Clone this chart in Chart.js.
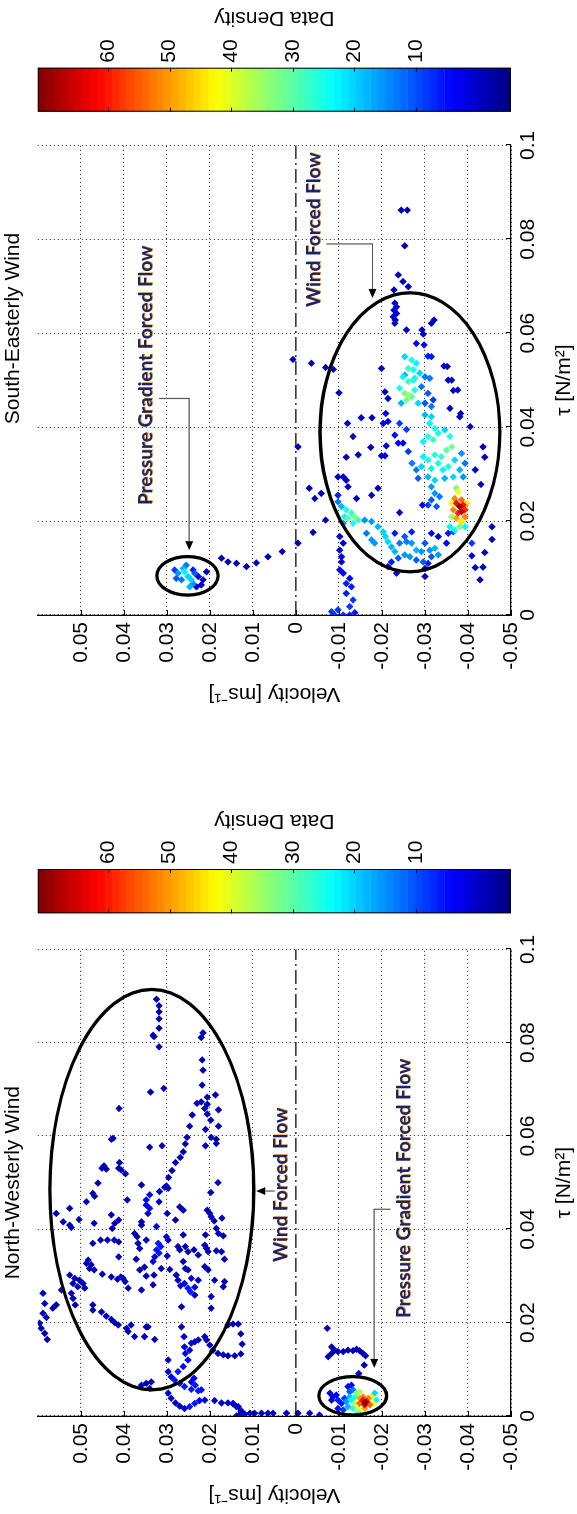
<!DOCTYPE html>
<html><head><meta charset="utf-8">
<script src="https://cdn.jsdelivr.net/npm/chart.js@4.4.1/dist/chart.umd.min.js"></script>
<style>
html,body{margin:0;padding:0;background:#fff;width:577px;height:1514px;overflow:hidden;}
#fig{position:absolute;left:0;top:0;width:1514px;height:577px;transform-origin:0 0;transform:translate(0,1514px) rotate(-90deg);background:#fff;}
.box{position:absolute;top:0;height:577px;}
</style></head>
<body>
<div id="fig">
  <div class="box" style="left:0;width:590px"><canvas id="nw" width="590" height="577"></canvas></div>
  <div class="box" style="left:590px;width:130px"><canvas id="nwcb" width="130" height="577"></canvas></div>
  <div class="box" style="left:801px;width:590px"><canvas id="se" width="590" height="577"></canvas></div>
  <div class="box" style="left:1391px;width:123px"><canvas id="secb" width="123" height="577"></canvas></div>
</div>
<script>
// ---------- axes / ticks ----------
const tauRange = [0, 0.1];
const velRange = [-0.05, 0.06];
const densRange = [1, 65];
const tauTicks = [0, 0.02, 0.04, 0.06, 0.08, 0.1];
const velTicks = [-0.05, -0.04, -0.03, -0.02, -0.01, 0, 0.01, 0.02, 0.03, 0.04, 0.05];
const cbTicks = [10, 20, 30, 40, 50, 60];
const titles = ['North-Westerly Wind', 'South-Easterly Wind'];

// ---------- North-Westerly data: [tau, velocity, density] ----------
const nwUpper = [
[0.0893,0.0324,4],[0.0879,0.0318,4],[0.0866,0.0318,4],[0.0851,0.0318,4],[0.0831,0.0318,4],[0.0816,0.0332,4],[0.0813,0.0330,4],[0.0791,0.0318,4],
[0.0821,0.0216,4],[0.0811,0.0220,4],[0.0763,0.0218,4],[0.0741,0.0216,4],[0.0709,0.0218,4],[0.0688,0.0187,4],[0.0683,0.0206,4],[0.0673,0.0220,4],
[0.0670,0.0230,4],[0.0668,0.0206,4],[0.0659,0.0212,4],[0.0656,0.0180,4],[0.0645,0.0241,4],[0.0647,0.0206,4],[0.0634,0.0198,4],[0.0621,0.0247,4],
[0.0621,0.0180,4],[0.0614,0.0210,4],[0.0597,0.0253,4],[0.0597,0.0197,4],[0.0593,0.0185,4],[0.0584,0.0185,4],[0.0583,0.0257,4],[0.0566,0.0262,4],
[0.0579,0.0210,4],[0.0554,0.0269,4],[0.0543,0.0280,4],[0.0526,0.0288,4],[0.0511,0.0296,4],[0.0493,0.0301,5],[0.0490,0.0305,5],
[0.0702,0.0307,4],[0.0694,0.0338,4],[0.0659,0.0411,4],[0.0595,0.0425,4],[0.0593,0.0429,4],[0.0576,0.0340,4],[0.0579,0.0311,4],[0.0543,0.0410,4],
[0.0531,0.0412,4],[0.0527,0.0406,4],[0.0536,0.0446,4],[0.0529,0.0441,4],[0.0531,0.0451,4],[0.0519,0.0396,4],[0.0499,0.0460,4],[0.0495,0.0359,4],[0.0500,0.0181,4]
];
const nwMid = [
[0.0488,0.0297,5],[0.0477,0.0472,4],[0.0471,0.0468,4],[0.0459,0.0487,4],[0.0445,0.0526,4],[0.0434,0.0557,4],[0.0416,0.0541,4],[0.0409,0.0526,4],
[0.0404,0.0522,4],[0.0421,0.0504,4],[0.0413,0.0469,4],[0.0431,0.0429,4],[0.0420,0.0412,4],[0.0413,0.0421,4],[0.0402,0.0427,4],[0.0463,0.0392,4],
[0.0474,0.0340,8],[0.0463,0.0348,8],[0.0452,0.0348,8],[0.0445,0.0340,8],[0.0434,0.0344,6],[0.0481,0.0317,5],[0.0459,0.0318,5],[0.0416,0.0359,4],
[0.0409,0.0359,4],[0.0434,0.0299,4],[0.0448,0.0270,4],[0.0441,0.0262,4],[0.0420,0.0280,4],[0.0384,0.0301,5],[0.0377,0.0297,5],[0.0406,0.0324,5],
[0.0391,0.0375,4],[0.0384,0.0369,4],[0.0377,0.0348,4],[0.0370,0.0367,4],[0.0359,0.0363,4],
[0.0370,0.0320,10],[0.0363,0.0314,10],[0.0356,0.0324,10],[0.0349,0.0318,10],[0.0341,0.0328,8],[0.0331,0.0332,6],[0.0343,0.0299,5],[0.0363,0.0274,4],
[0.0356,0.0270,4],[0.0388,0.0262,4],[0.0363,0.0257,4],[0.0352,0.0251,4],[0.0356,0.0237,4],[0.0345,0.0227,4],[0.0366,0.0212,4],[0.0359,0.0208,4],
[0.0352,0.0204,4],[0.0388,0.0210,4],[0.0441,0.0206,4],[0.0434,0.0200,4],[0.0427,0.0197,4],[0.0418,0.0190,4],[0.0424,0.0172,4],[0.0402,0.0185,4],
[0.0391,0.0180,4],[0.0386,0.0169,4],[0.0479,0.0198,4],[0.0354,0.0185,4],[0.0352,0.0173,4],[0.0336,0.0166,4],
[0.0341,0.0412,4],[0.0377,0.0454,4],[0.0377,0.0438,4],[0.0377,0.0422,4],[0.0373,0.0412,4],[0.0370,0.0472,4],[0.0334,0.0483,4],[0.0327,0.0487,4],
[0.0324,0.0476,4],[0.0313,0.0469,4],[0.0316,0.0480,4],[0.0336,0.0371,4],[0.0313,0.0363,4],[0.0319,0.0352,4],[0.0300,0.0348,4],[0.0302,0.0330,4],
[0.0316,0.0313,4],[0.0314,0.0293,4]
];
const nwLow = [
[0.0302,0.0278,5],[0.0291,0.0274,5],[0.0279,0.0268,5],[0.0331,0.0262,4],[0.0316,0.0257,4],[0.0313,0.0251,4],[0.0284,0.0259,8],[0.0274,0.0251,10],
[0.0266,0.0245,10],[0.0276,0.0235,8],[0.0295,0.0243,6],[0.0291,0.0227,5],[0.0259,0.0235,4],[0.0320,0.0212,4],[0.0313,0.0204,4],[0.0291,0.0189,4],
[0.0288,0.0166,4],[0.0277,0.0169,4],[0.0256,0.0197,4],[0.0231,0.0197,4],[0.0234,0.0266,4],[0.0281,0.0332,4],[0.0270,0.0359,4],[0.0274,0.0390,4],
[0.0288,0.0397,4],[0.0295,0.0402,4],[0.0298,0.0407,4],[0.0298,0.0429,4],[0.0293,0.0415,4],[0.0304,0.0450,4],
[0.0302,0.0526,4],[0.0295,0.0514,4],[0.0291,0.0503,4],[0.0284,0.0495,4],[0.0274,0.0491,4],[0.0277,0.0507,4],[0.0284,0.0518,4],[0.0263,0.0522,4],
[0.0252,0.0518,4],[0.0238,0.0513,4],[0.0270,0.0545,4],[0.0263,0.0588,4],[0.0241,0.0584,4],[0.0238,0.0557,4],[0.0231,0.0565,4],[0.0220,0.0588,4],
[0.0211,0.0580,4],[0.0199,0.0596,4],[0.0188,0.0592,4],[0.0177,0.0584,4],[0.0164,0.0578,4],
[0.0238,0.0472,4],[0.0227,0.0472,4],[0.0223,0.0452,4],[0.0214,0.0441,4],[0.0207,0.0429,4],[0.0200,0.0421,4],[0.0195,0.0413,4],[0.0188,0.0394,4],
[0.0181,0.0390,4],[0.0195,0.0383,4],[0.0170,0.0375,4],[0.0170,0.0352,4],[0.0191,0.0348,4],[0.0191,0.0344,4],[0.0164,0.0328,4],[0.0120,0.0297,4],
[0.0191,0.0266,4],[0.0170,0.0260,5],[0.0148,0.0259,6],[0.0134,0.0257,8],[0.0120,0.0251,8],[0.0141,0.0247,6],[0.0156,0.0243,6],[0.0159,0.0235,5],
[0.0163,0.0227,5],[0.0106,0.0262,8],[0.0095,0.0274,10],
[0.0170,0.0212,4],[0.0163,0.0208,4],[0.0152,0.0200,4],[0.0141,0.0193,4],[0.0134,0.0181,4],[0.0131,0.0169,4],[0.0129,0.0158,4],[0.0129,0.0142,4],
[0.0133,0.0128,4],[0.0195,0.0158,4],[0.0197,0.0146,4],[0.0197,0.0134,4],[0.0176,0.0128,4],[0.0154,0.0125,4]
];
const nwBase = [
[0.0081,0.0237,8],[0.0066,0.0234,10],[0.0073,0.0243,8],[0.0095,0.0297,6],[0.0084,0.0290,8],[0.0077,0.0282,10],[0.0070,0.0270,10],[0.0063,0.0259,10],
[0.0057,0.0243,10],[0.0054,0.0227,10],[0.0056,0.0220,8],[0.0066,0.0359,4],[0.0070,0.0348,4],[0.0073,0.0336,4],[0.0059,0.0340,4],
[0.0049,0.0297,5],[0.0038,0.0290,5],[0.0028,0.0280,5],[0.0021,0.0270,5],[0.0016,0.0259,6],[0.0020,0.0247,10],[0.0027,0.0235,10],[0.0033,0.0224,8],
[0.0034,0.0212,6],[0.0033,0.0189,5],[0.0028,0.0173,5],[0.0028,0.0158,5],[0.0026,0.0146,5],[0.0020,0.0134,5],[0.0011,0.0127,5],[0.0004,0.0119,5],
[0.0006,0.0107,5],[0.0006,0.0096,5],[0.0006,0.0080,5],[0.0006,0.0065,5],[0.0000,0.0138,5],[0.0002,0.0131,5],
[0.0006,0.0053,5],[0.0006,0.0022,5],[0.0006,-0.0005,5],[0.0006,-0.0032,5],[0.0002,-0.0055,6],[0.0027,0.0146,5],[0.0020,0.0138,5],[0.0009,0.0127,5],
[0.0188,-0.0073,4],[0.0127,-0.0075,4],[0.0134,-0.0083,4],[0.0141,-0.0090,4],[0.0138,-0.0098,4],[0.0138,-0.0110,4],[0.0141,-0.0121,4],[0.0140,-0.0133,4],
[0.0143,-0.0141,4],[0.0140,-0.0148,4],[0.0134,-0.0156,4],[0.0129,-0.0162,4],[0.0148,-0.0083,4],[0.0109,-0.0159,4],[0.0091,-0.0146,5]
];
const nwCore = [
[0.0049,-0.0079,6],[0.0041,-0.0086,8],[0.0045,-0.0094,8],[0.0034,-0.0083,7],[0.0034,-0.0098,10],[0.0027,-0.0106,10],[0.0038,-0.0113,12],[0.0063,-0.0121,8],
[0.0066,-0.0129,9],[0.0052,-0.0125,14],[0.0056,-0.0133,16],[0.0016,-0.0098,9],[0.0013,-0.0110,12],[0.0031,-0.0117,18],[0.0041,-0.0125,20],[0.0034,-0.0129,24],
[0.0041,-0.0137,26],[0.0020,-0.0121,20],[0.0016,-0.0133,26],[0.0009,-0.0145,28],[0.0049,-0.0183,22],[0.0034,-0.0187,24],[0.0049,-0.0141,32],[0.0052,-0.0148,36],
[0.0027,-0.0137,36],[0.0041,-0.0176,38],[0.0027,-0.0180,40],[0.0016,-0.0145,38],[0.0038,-0.0148,46],[0.0041,-0.0156,48],[0.0038,-0.0168,48],[0.0027,-0.0148,50],
[0.0024,-0.0172,50],[0.0016,-0.0160,46],[0.0034,-0.0156,56],[0.0031,-0.0164,58],[0.0024,-0.0160,58],[0.0029,-0.0160,64]
];

// ---------- South-Easterly data: [tau, velocity, density] ----------
const seUpper = [
[0.0862,-0.0245,4],[0.0862,-0.0259,4],[0.0786,-0.0253,4],[0.0724,-0.0238,4],[0.0710,-0.0249,4],[0.0699,-0.0261,4],[0.0692,-0.0228,4],[0.0664,-0.0230,5],
[0.0656,-0.0234,6],[0.0649,-0.0228,6],[0.0642,-0.0234,6],[0.0635,-0.0226,6],[0.0628,-0.0231,6],[0.0621,-0.0230,5],[0.0628,-0.0321,5],[0.0621,-0.0315,5],
[0.0607,-0.0257,5],[0.0607,-0.0293,5],[0.0598,-0.0296,5],[0.0578,-0.0280,8],[0.0575,-0.0298,8],[0.0551,-0.0307,10],[0.0550,-0.0315,10],[0.0530,-0.0344,5],
[0.0525,-0.0199,5],[0.0544,0.0007,4],[0.0536,-0.0036,4],[0.0527,-0.0069,4],[0.0523,-0.0087,4],
[0.0550,-0.0253,22],[0.0543,-0.0269,26],[0.0536,-0.0280,24],[0.0525,-0.0261,28],[0.0522,-0.0273,26],[0.0515,-0.0288,22],[0.0511,-0.0253,20],[0.0504,-0.0276,24],
[0.0507,-0.0300,16],[0.0504,-0.0311,16],[0.0529,-0.0352,5],[0.0500,-0.0362,5],[0.0479,-0.0376,5],[0.0429,-0.0383,5],[0.0401,-0.0405,5]
];
const seMid = [
[0.0507,-0.0249,24],[0.0497,-0.0261,28],[0.0500,-0.0273,26],[0.0483,-0.0241,26],[0.0472,-0.0253,32],[0.0465,-0.0269,30],[0.0458,-0.0257,32],[0.0479,-0.0276,26],
[0.0451,-0.0284,22],[0.0451,-0.0245,20],[0.0468,-0.0262,34],
[0.0500,-0.0354,4],[0.0478,-0.0366,4],[0.0475,-0.0207,5],[0.0461,-0.0214,5],[0.0486,-0.0292,16],[0.0472,-0.0307,14],[0.0458,-0.0319,12],[0.0451,-0.0300,14],
[0.0444,-0.0315,16],[0.0440,-0.0358,5],[0.0422,-0.0381,4],[0.0473,-0.0100,4],[0.0429,-0.0209,8],[0.0408,-0.0203,8],[0.0412,-0.0214,8],[0.0420,-0.0152,5],
[0.0420,-0.0177,5],[0.0408,-0.0120,4],[0.0380,-0.0133,4],[0.0383,-0.0230,8],[0.0408,-0.0241,12],[0.0395,-0.0257,12],[0.0366,-0.0238,8],[0.0366,-0.0249,8],
[0.0360,-0.0210,6],[0.0357,-0.0174,4],[0.0358,-0.0005,4],[0.0341,-0.0145,4],[0.0336,-0.0117,4],[0.0339,-0.0199,6],[0.0339,-0.0207,6],[0.0348,-0.0261,12],
[0.0323,-0.0270,16],[0.0309,-0.0280,16],[0.0291,-0.0284,14]
];
const seCyan = [
[0.0426,-0.0300,20],[0.0422,-0.0315,22],[0.0408,-0.0311,24],[0.0397,-0.0323,26],[0.0380,-0.0307,26],[0.0369,-0.0296,24],[0.0373,-0.0319,28],[0.0387,-0.0331,26],
[0.0394,-0.0346,22],[0.0380,-0.0358,26],[0.0358,-0.0362,32],[0.0351,-0.0350,30],[0.0337,-0.0338,28],[0.0341,-0.0323,26],[0.0330,-0.0307,26],[0.0337,-0.0296,24],
[0.0316,-0.0292,22],[0.0312,-0.0315,24],[0.0323,-0.0331,26],[0.0309,-0.0342,24],[0.0316,-0.0354,26],[0.0330,-0.0369,22],[0.0344,-0.0385,18],[0.0323,-0.0393,16],
[0.0309,-0.0381,20],[0.0294,-0.0389,18],[0.0294,-0.0366,22],[0.0291,-0.0346,20],[0.0287,-0.0323,22],[0.0294,-0.0307,20],[0.0273,-0.0315,18],[0.0259,-0.0323,18],
[0.0252,-0.0334,16],[0.0245,-0.0315,14],[0.0234,-0.0307,12],[0.0231,-0.0327,14],[0.0234,-0.0294,8],[0.0218,-0.0241,5],
[0.0294,-0.0098,5],[0.0294,-0.0110,5],[0.0287,-0.0117,5],[0.0273,-0.0121,5],[0.0270,-0.0031,4],[0.0248,-0.0044,4],[0.0259,-0.0059,4],[0.0248,-0.0141,4],
[0.0255,-0.0176,4],[0.0270,-0.0191,4],
[0.0241,-0.0098,16],[0.0231,-0.0106,20],[0.0224,-0.0117,26],[0.0217,-0.0129,28],[0.0206,-0.0121,30],[0.0209,-0.0137,32],[0.0202,-0.0145,28],[0.0195,-0.0133,26],
[0.0209,-0.0113,24],[0.0195,-0.0110,18],[0.0255,-0.0098,10],
[0.0202,-0.0069,4],[0.0176,-0.0040,4],[0.0153,-0.0005,4],[0.0135,0.0032,4],[0.0124,0.0065,4],[0.0111,0.0092,4],[0.0103,0.0115,4],[0.0110,0.0138,4],
[0.0113,0.0158,4],[0.0121,0.0173,4]
];
const seLow = [
[0.0202,-0.0160,18],[0.0199,-0.0176,18],[0.0188,-0.0191,20],[0.0177,-0.0203,22],[0.0167,-0.0208,22],[0.0156,-0.0214,22],[0.0145,-0.0222,20],[0.0135,-0.0230,20],
[0.0174,-0.0164,16],[0.0160,-0.0176,18],[0.0153,-0.0183,18],[0.0174,-0.0230,10],[0.0177,-0.0269,10],[0.0167,-0.0253,14],
[0.0153,-0.0241,16],[0.0156,-0.0257,16],[0.0153,-0.0269,18],[0.0138,-0.0280,20],[0.0135,-0.0292,18],[0.0153,-0.0300,14],[0.0138,-0.0311,18],[0.0142,-0.0323,20],
[0.0128,-0.0331,18],[0.0124,-0.0315,14],[0.0110,-0.0307,10],[0.0113,-0.0296,14],[0.0117,-0.0280,14],[0.0124,-0.0265,18],[0.0128,-0.0253,18],[0.0121,-0.0238,14],
[0.0113,-0.0222,10],[0.0103,-0.0214,8],[0.0089,-0.0234,6],
[0.0174,-0.0315,6],[0.0167,-0.0331,6],[0.0174,-0.0354,10],[0.0153,-0.0350,8],[0.0177,-0.0366,14],
[0.0167,-0.0102,6],[0.0153,-0.0110,6],[0.0138,-0.0102,6],[0.0124,-0.0106,6],[0.0113,-0.0106,6],[0.0096,-0.0102,8],[0.0089,-0.0110,8],[0.0078,-0.0125,8],
[0.0067,-0.0117,10],[0.0060,-0.0129,10],[0.0046,-0.0117,10],[0.0032,-0.0133,12],[0.0018,-0.0125,12],[0.0011,-0.0098,12],[0.0007,-0.0083,12],[0.0000,-0.0090,12],
[0.0000,-0.0110,12],[0.0000,-0.0125,10],[0.0005,-0.0137,10],
[0.0099,-0.0300,4],[0.0082,-0.0300,4],
[0.0358,-0.0435,4],[0.0336,-0.0439,4],[0.0309,-0.0417,5],[0.0278,-0.0430,5],[0.0153,-0.0409,12],[0.0188,-0.0456,4],[0.0161,-0.0456,4],[0.0133,-0.0439,4],
[0.0102,-0.0435,4],[0.0101,-0.0417,5],[0.0075,-0.0428,4],[0.0126,-0.0409,6]
];
const seCore = [
[0.0231,-0.0381,63],[0.0220,-0.0385,60],[0.0238,-0.0373,56],[0.0234,-0.0389,56],[0.0217,-0.0377,54],[0.0224,-0.0393,54],[0.0248,-0.0369,48],[0.0245,-0.0385,50],
[0.0224,-0.0366,48],[0.0209,-0.0393,48],[0.0206,-0.0373,46],[0.0263,-0.0377,40],[0.0238,-0.0362,40],[0.0238,-0.0397,42],[0.0199,-0.0385,42],[0.0270,-0.0373,32],
[0.0209,-0.0362,34],[0.0188,-0.0381,32],[0.0188,-0.0358,24],[0.0181,-0.0369,26],[0.0188,-0.0393,24]
];
const seSmall = [
[0.0089,0.0274,18],[0.0099,0.0262,20],[0.0082,0.0251,22],[0.0067,0.0239,18],[0.0060,0.0247,20],[0.0075,0.0266,16],[0.0078,0.0278,14],[0.0106,0.0255,16],
[0.0089,0.0235,14],[0.0092,0.0259,24],[0.0075,0.0243,22],[0.0096,0.0282,12],[0.0082,0.0227,6],[0.0075,0.0216,5],[0.0064,0.0220,5],[0.0092,0.0208,4],
[0.0060,0.0231,6],[0.0096,0.0239,10]
];

// ---------- annotations (data units) ----------
const titleTau = [0.0500, 0.0610];
const nwEllipses = [{tau:0.0485, vel:0.0335, dTau:0.0429, dVel:0.0237}, {tau:0.00433, vel:-0.0132, dTau:0.00411, dVel:0.00787}];
const seEllipses = [{tau:0.0389, vel:-0.0265, dTau:0.0297, dVel:0.0209}, {tau:0.00834, vel:0.0252, dTau:0.0041, dVel:0.0071}];
const nwLabels = [{text:'Wind Forced Flow', tau:0.0330, vel:0.0021}, {text:'Pressure Gradient Forced Flow', tau:0.0210, vel:-0.0265}];
const seLabels = [{text:'Wind Forced Flow', tau:0.0656, vel:-0.0056}, {text:'Pressure Gradient Forced Flow', tau:0.0234, vel:0.0335}];
const nwArrows = [[[0.0482,0.0049],[0.0482,0.0092]], [[0.0443,-0.0220],[0.0443,-0.0182],[0.0103,-0.0182]]];
const seArrows = [[[0.0790,-0.0071],[0.0790,-0.0178],[0.0675,-0.0178]], [[0.0461,0.0318],[0.0461,0.0248],[0.0138,0.0248]]];

// ---------- helpers ----------
const FONT = '"Liberation Sans", Arial, Helvetica, sans-serif';
function jet(t){
  const c = x => Math.max(0, Math.min(1, x));
  const r = c(Math.min(4*t-1.5, -4*t+4.5)), g = c(Math.min(4*t-0.5, -4*t+3.5)), b = c(Math.min(4*t+0.5, -4*t+2.5));
  return 'rgb(' + Math.round(r*255) + ',' + Math.round(g*255) + ',' + Math.round(b*255) + ')';
}
function densColor(d){
  const i = Math.max(0, Math.min(63, Math.floor((d - densRange[0]) / (densRange[1] - densRange[0]) * 64)));
  return jet((i + 0.5) / 64);
}
function fmt(v){ return String(Math.round(v * 1000) / 1000); }

const annotate = {
  id: 'annotate',
  afterDatasetsDraw(chart, args, o) {
    const ctx = chart.ctx, xs = chart.scales.x, ys = chart.scales.y, a = chart.chartArea;
    const px = t => xs.getPixelForValue(t), py = v => ys.getPixelForValue(v);
    ctx.save();
    ctx.strokeStyle = '#000'; ctx.lineWidth = 1;
    tauTicks.forEach(t => { const x = Math.round(px(t)) + 0.5; ctx.beginPath(); ctx.moveTo(x, a.bottom); ctx.lineTo(x, a.bottom - 5); ctx.stroke(); });
    velTicks.forEach(v => { const y = Math.round(py(v)) + 0.5; ctx.beginPath(); ctx.moveTo(a.left, y); ctx.lineTo(a.left + 5, y); ctx.stroke(); });
    ctx.lineWidth = 3.3; ctx.strokeStyle = '#000';
    o.ellipses.forEach(e => {
      const cx = px(e.tau), cy = py(e.vel);
      const rx = Math.abs(px(e.tau + e.dTau) - cx), ry = Math.abs(py(e.vel + e.dVel) - cy);
      ctx.beginPath(); ctx.ellipse(cx, cy, rx, ry, 0, 0, 2 * Math.PI); ctx.stroke();
    });
    o.arrows.forEach(path => {
      const pts = path.map(p => [px(p[0]), py(p[1])]);
      const n = pts.length, [x1, y1] = pts[n-2], [x2, y2] = pts[n-1];
      const ang = Math.atan2(y2 - y1, x2 - x1), L = 9, W = 4;
      ctx.strokeStyle = '#555'; ctx.lineWidth = 1.2;
      ctx.beginPath();
      pts.forEach((p, i) => { const q = i === n - 1 ? [p[0] - L*Math.cos(ang), p[1] - L*Math.sin(ang)] : p; i ? ctx.lineTo(q[0], q[1]) : ctx.moveTo(q[0], q[1]); });
      ctx.stroke();
      ctx.fillStyle = '#000'; ctx.beginPath();
      ctx.moveTo(x2, y2);
      ctx.lineTo(x2 - L*Math.cos(ang) + W*Math.sin(ang), y2 - L*Math.sin(ang) - W*Math.cos(ang));
      ctx.lineTo(x2 - L*Math.cos(ang) - W*Math.sin(ang), y2 - L*Math.sin(ang) + W*Math.cos(ang));
      ctx.closePath(); ctx.fill();
    });
    ctx.font = 'bold 19px Lato, "Open Sans", sans-serif'; ctx.textAlign = 'left'; ctx.textBaseline = 'alphabetic';
    o.labels.forEach(l => {
      const x = px(l.tau), y = py(l.vel);
      ctx.fillStyle = '#eb8c14'; ctx.fillText(l.text, x + 0.5, y + 1.5);
      ctx.fillStyle = '#1b2466'; ctx.fillText(l.text, x, y);
    });
    // panel title
    ctx.font = '21px ' + FONT; ctx.fillStyle = '#000'; ctx.textAlign = 'center'; ctx.textBaseline = 'middle';
    ctx.fillText(o.title, px(o.titleTau), 13.6);
    ctx.restore();
  }
};

function makeScatter(id, pts, padRight, ann) {
  const sorted = pts.slice().sort((p, q) => p[2] - q[2]);
  return new Chart(document.getElementById(id), {
    type: 'scatter',
    data: { datasets: [
      { type: 'line', data: [{x: tauRange[0], y: 0}, {x: tauRange[1], y: 0}], borderColor: '#000', borderWidth: 1.2,
        borderDash: [14, 4, 2, 4], pointRadius: 0, fill: false, order: 2 },
      { data: sorted.map(p => ({x: p[0], y: p[1]})), pointStyle: 'rectRot', pointRadius: 3.7, pointBorderWidth: 0,
        pointBackgroundColor: sorted.map(p => densColor(p[2])), pointBorderColor: sorted.map(p => densColor(p[2])), order: 1 }
    ]},
    options: {
      responsive: false, animation: false, devicePixelRatio: 1,
      layout: { padding: { left: 0, right: padRight, top: 37.8, bottom: 0 } },
      scales: {
        x: { type: 'linear', position: 'bottom', min: tauRange[0], max: tauRange[1],
          afterBuildTicks: s => { s.ticks = tauTicks.map(v => ({value: v})); },
          afterFit: s => { s.height = 66; },
          ticks: { callback: v => fmt(v), autoSkip: false, maxRotation: 0, padding: 5, color: '#000', font: {family: FONT, size: 21} },
          grid: { color: '#262626', lineWidth: 1, drawTicks: false },
          border: { color: '#000', width: 1.2, dash: [1, 3] },
          title: { display: true, text: 'τ [N/m²]', color: '#000', font: {family: FONT, size: 21}, padding: {top: 0, bottom: 0} } },
        y: { type: 'linear', position: 'left', min: velRange[0], max: velRange[1],
          afterBuildTicks: s => { s.ticks = velTicks.map(v => ({value: v})); },
          afterFit: s => { s.width = 98; },
          ticks: { callback: v => fmt(v), autoSkip: false, padding: 7, color: '#000', font: {family: FONT, size: 21} },
          grid: { color: c => (c.tick && c.tick.value === 0) ? 'rgba(0,0,0,0)' : '#262626', lineWidth: 1, drawTicks: false },
          border: { color: '#000', width: 1.2, dash: [1, 3] },
          title: { display: true, text: 'Velocity [ms⁻¹]', color: '#000', font: {family: FONT, size: 21}, padding: {top: 7, bottom: 0} } }
      },
      plugins: {
        legend: { display: false }, tooltip: { enabled: false }, title: { display: false },
        annotate: ann
      }
    },
    plugins: [annotate]
  });
}

const cbFrame = {
  id: 'cbFrame',
  afterDraw(chart, args, o) {
    const ctx = chart.ctx, a = chart.chartArea, s = chart.scales.cb;
    ctx.save();
    ctx.strokeStyle = '#000'; ctx.lineWidth = 1;
    ctx.strokeRect(a.left + 0.5, a.top + 0.5, a.right - a.left - 1, a.bottom - a.top - 1);
    cbTicks.forEach(v => {
      const y = Math.round(s.getPixelForValue(v)) + 0.5;
      ctx.beginPath(); ctx.moveTo(a.left, y); ctx.lineTo(a.left + 4, y); ctx.moveTo(a.right, y); ctx.lineTo(a.right - 4, y); ctx.stroke();
    });
    ctx.translate(a.right + o.offset, (a.top + a.bottom) / 2);
    ctx.rotate(-Math.PI / 2);
    ctx.font = '21px ' + FONT; ctx.fillStyle = '#000'; ctx.textAlign = 'center'; ctx.textBaseline = 'middle';
    ctx.fillText(o.label, 0, 0);
    ctx.restore();
  }
};

function makeColorbar(id, padLeft, axisWidth, offset) {
  const bins = [];
  for (let b = densRange[0]; b < densRange[1]; b++) bins.push(b);
  return new Chart(document.getElementById(id), {
    type: 'bar',
    data: { labels: bins, datasets: [{ data: bins.map(() => 1), backgroundColor: bins.map(b => densColor(b + 0.5)),
      borderWidth: 0, barPercentage: 1, categoryPercentage: 1 }] },
    options: {
      indexAxis: 'y', responsive: false, animation: false, devicePixelRatio: 1,
      layout: { padding: { left: padLeft, right: 0, top: 37.8, bottom: 66 } },
      scales: {
        x: { type: 'linear', display: false, min: 0, max: 1 },
        y: { type: 'category', display: false, reverse: true },
        cb: { type: 'linear', axis: 'y', position: 'right', min: densRange[0], max: densRange[1],
          afterBuildTicks: s => { s.ticks = cbTicks.map(v => ({value: v})); },
          afterFit: s => { s.width = axisWidth; },
          ticks: { padding: 5, color: '#000', font: {family: FONT, size: 21} },
          grid: { display: false, drawTicks: false }, border: { display: false } }
      },
      plugins: { legend: { display: false }, tooltip: { enabled: false }, cbFrame: { label: 'Data Density', offset: offset } }
    },
    plugins: [cbFrame]
  });
}

makeScatter('nw', [...nwUpper, ...nwMid, ...nwLow, ...nwBase, ...nwCore], 25.3,
  { ellipses: nwEllipses, labels: nwLabels, arrows: nwArrows, title: titles[0], titleTau: titleTau[0] });
makeScatter('se', [...seUpper, ...seMid, ...seCyan, ...seLow, ...seCore, ...seSmall], 22.3,
  { ellipses: seEllipses, labels: seLabels, arrows: seArrows, title: titles[1], titleTau: titleTau[1] });
makeColorbar('nwcb', 10.7, 75, 48);
makeColorbar('secb', 11.3, 67.7, 50);
</script>
</body></html>
